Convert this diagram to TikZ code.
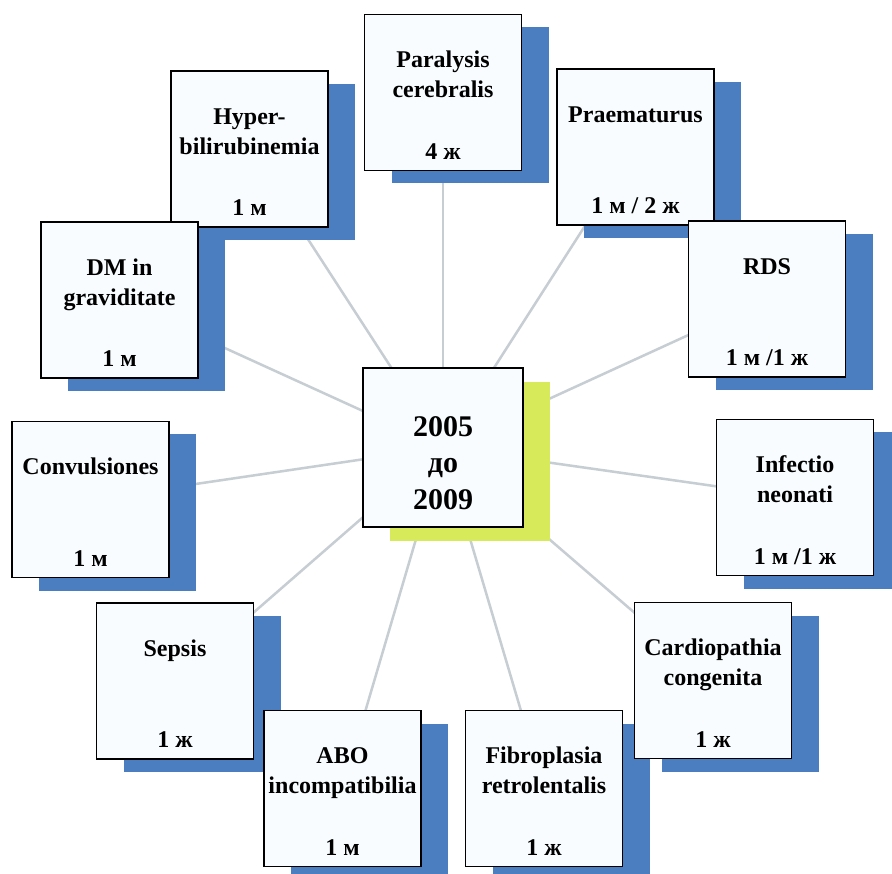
\documentclass[tikz,border=0pt]{standalone}
\usepackage{fontspec}
\setmainfont{Liberation Serif}
\usetikzlibrary{shadows,backgrounds}

\definecolor{shadeblue}{HTML}{4A7EC0}
\definecolor{shadelime}{HTML}{D6EA5A}
\definecolor{spokegray}{HTML}{C6CDD3}
\definecolor{boxfill}{HTML}{F8FCFE}

\tikzset{
  boxbase/.style={draw=black, line width=1.4pt, fill=boxfill, inner sep=0pt},
  casebox/.style={boxbase, minimum width=157pt, minimum height=156pt,
    drop shadow={shadow xshift=27pt, shadow yshift=-13pt, fill=shadeblue, opacity=1}},
  yearbox/.style={boxbase, minimum width=160pt, minimum height=159pt,
    drop shadow={shadow xshift=27pt, shadow yshift=-14pt, fill=shadelime, opacity=1}},
  boxtext/.style={font=\bfseries\fontsize{24}{28}\selectfont, inner sep=0pt, anchor=base},
  yeartext/.style={font=\bfseries\fontsize{30}{36}\selectfont, inner sep=0pt, anchor=base},
  spoke/.style={draw=spokegray, line width=2.5pt}
}

% box with a two-line title and a count line
\newcommand\twolinebox[6]{%
  \node[casebox] (#1) at (#2,#3) {};
  \node[boxtext] (#1-a) at ([yshift=-54pt]#1.north) {#4};
  \node[boxtext] (#1-b) at ([yshift=-84pt]#1.north) {#5};
  \node[boxtext] (#1-n) at ([yshift=12pt]#1.south) {#6};}
% box with a one-line title and a count line
\newcommand\onelinebox[5]{%
  \node[casebox] (#1) at (#2,#3) {};
  \node[boxtext] (#1-a) at ([yshift=-54pt]#1.north) {#4};
  \node[boxtext] (#1-n) at ([yshift=12pt]#1.south) {#5};}

\begin{document}
\begin{tikzpicture}[x=1pt, y=-1pt]
\useasboundingbox (0,0) rectangle (892,874);

\twolinebox{paral}{443}{92.5}{Paralysis}{cerebralis}{4 ж}
\onelinebox{praem}{635.5}{147}{Praematurus}{1 м / 2 ж}
\onelinebox{rds}{767}{299}{RDS}{1 м /1 ж}
\twolinebox{infect}{795}{497.5}{Infectio}{neonati}{1 м /1 ж}
\twolinebox{hyper}{249.5}{149}{Hyper-}{bilirubinemia}{1 м}
\twolinebox{dm}{119.5}{300}{DM in}{graviditate}{1 м}
\onelinebox{conv}{90.5}{499.5}{Convulsiones}{1 м}
\onelinebox{sepsis}{175}{681}{Sepsis}{1 ж}
\twolinebox{abo}{342.5}{788.5}{ABO}{incompatibilia}{1 м}
\twolinebox{fibro}{544}{788.5}{Fibroplasia}{retrolentalis}{1 ж}
\twolinebox{cardio}{713}{680.5}{Cardiopathia}{congenita}{1 ж}

\node[yearbox] (yr) at (443,447.5) {};
\node[yeartext] (yr-a) at (443,437) {2005};
\node[yeartext] (yr-b) at (443,473) {до};
\node[yeartext] (yr-c) at (443,510) {2009};

\begin{scope}[on background layer]
  \fill[white] (0,0) rectangle (892,874);
  \foreach \n in {paral,praem,rds,infect,cardio,fibro,abo,sepsis,conv,dm,hyper}
    \draw[spoke] (yr.center) -- (\n.center);
\end{scope}
\end{tikzpicture}
\end{document}
